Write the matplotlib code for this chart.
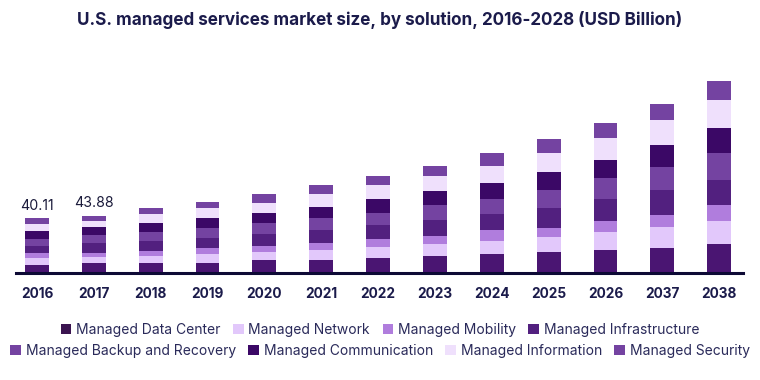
import matplotlib
matplotlib.use("Agg")
import matplotlib.pyplot as plt
from matplotlib.patches import Patch
import numpy as np

plt.rcParams['font.family'] = ['Inter', 'DejaVu Sans']

years = ["2016", "2017", "2018", "2019", "2020", "2021", "2022", "2023",
         "2024", "2025", "2026", "2037", "2038"]

segments = ["Managed Data Center", "Managed Network", "Managed Mobility",
            "Managed Infrastructure", "Managed Backup and Recovery",
            "Managed Communication", "Managed Information", "Managed Security"]

data_center    = [5.87, 7.35, 7.35, 7.35, 9.56, 9.56, 11.0, 12.5, 14.0, 15.4, 16.9, 18.4, 21.3]
network        = [5.14, 4.41, 5.40, 6.60, 5.90, 7.35, 8.10, 8.80, 9.56, 11.0, 13.2, 15.4, 16.9]
mobility       = [3.91, 3.19, 3.40, 4.41, 4.40, 5.10, 5.90, 5.90, 8.10, 6.60, 8.10, 8.80, 11.8]
infrastructure = [4.89, 6.86, 7.35, 7.35, 8.80, 9.56, 10.3, 11.8, 11.8, 14.7, 16.2, 18.4, 18.4]
backup         = [5.14, 6.13, 6.60, 7.35, 8.10, 8.80, 8.80, 11.0, 11.0, 13.2, 15.4, 16.9, 19.9]
communication  = [5.87, 5.88, 6.60, 7.35, 7.35, 8.10, 10.3, 10.3, 11.8, 13.2, 13.2, 16.2, 18.4]
information    = [5.14, 4.17, 6.60, 7.35, 7.35, 9.80, 10.3, 11.0, 12.5, 14.0, 16.2, 18.4, 20.6]
security       = [4.15, 4.09, 4.41, 4.66, 6.86, 6.60, 6.86, 7.60, 9.56, 10.3, 11.0, 11.8, 14.0]

labels_shown = {0: "40.11", 1: "43.88"}

colors = ["#4a1572", "#e2c8fb", "#b07ddd", "#52207f",
          "#7443a1", "#3b0866", "#efe0fc", "#7443a1"]
legend_colors = ["#3b1450", "#e2c8fb", "#b07ddd", "#52207f",
                 "#7443a1", "#3b0866", "#efe0fc", "#7443a1"]

series = [data_center, network, mobility, infrastructure, backup,
          communication, information, security]

W, H = 760, 380
fig = plt.figure(figsize=(7.6, 3.8), dpi=100)
ax_left, ax_right = 16, 743
ax_bottom, ax_top = 273, 60
ax = fig.add_axes([ax_left / W, 1 - ax_bottom / H, (ax_right - ax_left) / W, (ax_bottom - ax_top) / H])

x = np.arange(len(years))
bottom = np.zeros(len(years))
for vals, c in zip(series, colors):
    v = np.array(vals)
    ax.bar(x, v, bottom=bottom, width=0.42, color=c, linewidth=0)
    bottom += v

px_per_unit = 1.36
ax.set_ylim(0, (ax_bottom - ax_top) / px_per_unit)
ax.set_xlim(-0.37, 12.42)

for i, txt in labels_shown.items():
    ax.annotate(txt, (x[i], bottom[i]), xytext=(0, 4), textcoords="offset points",
                ha="center", va="bottom", fontsize=10.2, color="#1b1b3b")

for s in ["top", "right", "left"]:
    ax.spines[s].set_visible(False)
ax.spines["bottom"].set_color("#0d0a35")
ax.spines["bottom"].set_linewidth(2.2)
ax.set_yticks([])
ax.set_xticks(x)
ax.set_xticklabels(years, fontsize=9.8, fontweight="bold", color="#1b1b4b")
ax.tick_params(axis="x", length=0, pad=10)

fig.text(0.5, 1 - 20 / H, "U.S. managed services market size, by solution, 2016-2028 (USD Billion)",
         ha="center", va="center", fontsize=12.3, fontweight="bold", color="#1b1b4b")

handles = [Patch(facecolor=c, edgecolor="none", label=l) for c, l in zip(legend_colors, segments)]
leg_kw = dict(ncol=4, frameon=False, fontsize=10, handlelength=0.75, handleheight=0.75,
              handletextpad=0.35, columnspacing=0.9, labelcolor="#2a2a5a", borderpad=0)
fig.legend(handles=handles[:4], loc="center", bbox_to_anchor=(0.5, 1 - 330 / H), **leg_kw)
fig.legend(handles=handles[4:], loc="center", bbox_to_anchor=(0.5, 1 - 351 / H), **leg_kw)

fig.savefig("out.png", dpi=100)
